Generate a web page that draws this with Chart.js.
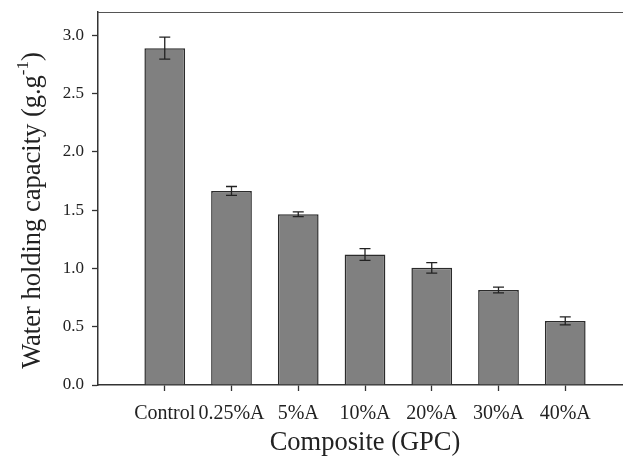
<!DOCTYPE html>
<html>
<head>
<meta charset="utf-8">
<script src="https://cdn.jsdelivr.net/npm/chart.js@4/dist/chart.umd.min.js"></script>
<style>
  html, body { margin: 0; padding: 0; background: #fff; overflow: hidden; }
  #wrap { width: 640px; height: 462px; position: relative; }
</style>
</head>
<body>
<div id="wrap"><canvas id="graph"></canvas></div>
<script>
// données
const categories = ["Control", "0.25%A", "5%A", "10%A", "20%A", "30%A", "40%A"];
const capacite = [2.89, 1.665, 1.465, 1.12, 1.005, 0.815, 0.55];
const erreurs = [0.095, 0.038, 0.021, 0.05, 0.045, 0.025, 0.035];
const yTicks = [0, 0.5, 1.0, 1.5, 2.0, 2.5, 3.0];

// une case vide de chaque côté pour placer les barres comme sur l'original
const labels = [""].concat(categories, [""]);
const valeurs = [null].concat(capacite, [null]);

const SERIF = "'Liberation Serif', 'Times New Roman', serif";

// barres d'erreur
const errorBars = {
  id: "errorBars",
  afterDatasetsDraw(chart) {
    const ctx = chart.ctx;
    const meta = chart.getDatasetMeta(0);
    const y = chart.scales.y;
    ctx.save();
    ctx.strokeStyle = "#222";
    ctx.lineWidth = 1.3;
    capacite.forEach((v, i) => {
      const bar = meta.data[i + 1];
      const x = bar.x;
      const yHaut = y.getPixelForValue(v + erreurs[i]);
      const yBas = y.getPixelForValue(v - erreurs[i]);
      ctx.beginPath();
      ctx.moveTo(x, yHaut); ctx.lineTo(x, yBas);
      ctx.moveTo(x - 5.5, yHaut); ctx.lineTo(x + 5.5, yHaut);
      ctx.moveTo(x - 5.5, yBas); ctx.lineTo(x + 5.5, yBas);
      ctx.stroke();
    });
    ctx.restore();
  }
};

// cadre du haut + titre vertical avec exposant
const cadre = {
  id: "cadre",
  afterDraw(chart) {
    const ctx = chart.ctx;
    const a = chart.chartArea;
    ctx.save();
    ctx.strokeStyle = "#555";
    ctx.lineWidth = 1;
    ctx.beginPath();
    ctx.moveTo(a.left, a.top + 0.5);
    ctx.lineTo(a.right, a.top + 0.5);
    ctx.stroke();

    const t1 = "Water holding capacity (g.g";
    const t2 = "-1";
    const t3 = ")";
    const f1 = "26.5px " + SERIF;
    const f2 = "17px " + SERIF;
    ctx.font = f1;
    const w1 = ctx.measureText(t1).width;
    const w3 = ctx.measureText(t3).width;
    ctx.font = f2;
    const w2 = ctx.measureText(t2).width;
    const total = w1 + w2 + w3;
    ctx.translate(33, (a.top + a.bottom) / 2 + 12);
    ctx.rotate(-Math.PI / 2);
    ctx.fillStyle = "#222";
    ctx.textBaseline = "middle";
    ctx.textAlign = "left";
    let x0 = -total / 2;
    ctx.font = f1;
    ctx.fillText(t1, x0, 0);
    ctx.font = f2;
    ctx.fillText(t2, x0 + w1, -9);
    ctx.font = f1;
    ctx.fillText(t3, x0 + w1 + w2, 0);
    ctx.restore();
  }
};

new Chart(document.getElementById("graph"), {
  type: "bar",
  data: {
    labels: labels,
    datasets: [{
      data: valeurs,
      backgroundColor: "#808080",
      borderColor: "#2b2b2b",
      borderWidth: 1.5,
      barPercentage: 0.61,
      categoryPercentage: 1
    }]
  },
  options: {
    responsive: true,
    maintainAspectRatio: false,
    animation: false,
    layout: { padding: { left: 0, right: 8, top: 12, bottom: 0 } },
    plugins: { legend: { display: false }, tooltip: { enabled: false } },
    scales: {
      x: {
        offset: false,
        grid: {
          offset: false,
          drawOnChartArea: false,
          tickLength: 6,
          tickColor: c => (c.index === 0 || c.index === labels.length - 1) ? "rgba(0,0,0,0)" : "#333",
          tickWidth: 1.3
        },
        border: { color: "#333", width: 1.5 },
        ticks: {
          autoSkip: false, maxRotation: 0, minRotation: 0,
          padding: 11,
          color: "#222",
          font: { family: SERIF, size: 20 }
        },
        title: {
          display: true,
          text: "Composite (GPC)",
          color: "#222",
          font: { family: SERIF, size: 26.5 },
          padding: { top: 0, bottom: 3 }
        },
        afterFit: s => {
          s.height = 462 - 385;
          s.paddingLeft = 0; s.paddingRight = 0;
        }
      },
      y: {
        min: 0,
        max: 3.2,
        grid: {
          drawOnChartArea: false,
          tickLength: 6,
          tickColor: "#333",
          tickWidth: 1.3
        },
        border: { color: "#333", width: 1.5 },
        afterBuildTicks: s => { s.ticks = yTicks.map(v => ({ value: v })); },
        ticks: {
          padding: 8,
          color: "#222",
          font: { family: SERIF, size: 17 },
          callback: v => Number(v).toFixed(1)
        },
        afterFit: s => {
          s.width = 98;
          s.paddingTop = 0; s.paddingBottom = 0;
        }
      }
    }
  },
  plugins: [errorBars, cadre]
});
</script>
</body>
</html>
